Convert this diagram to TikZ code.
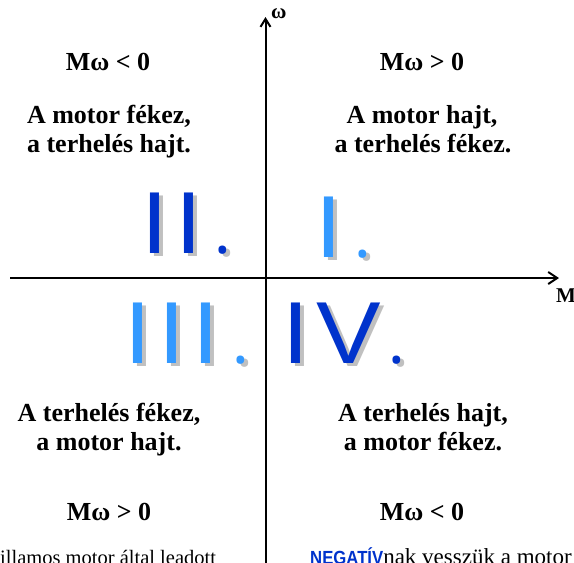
\documentclass[tikz,border=0pt]{standalone}
\usepackage{fontspec}
\setmainfont{Liberation Serif}
\newfontfamily\romfont[FakeStretch=1.1]{Liberation Sans}
\newfontfamily\negfont[FakeStretch=0.88]{Liberation Sans}
\newfontfamily\dotfont{Noto Sans}
\usetikzlibrary{arrows.meta}
\definecolor{dblue}{HTML}{0033CC}
\definecolor{lblue}{HTML}{3399FF}
\definecolor{shadowgray}{HTML}{C0C0C0}
\newcommand\romgap{\kern7.5pt}
\newcommand\romdot{{\kern5pt\dotfont\fontsize{62}{62}\selectfont .}}
\begin{document}
\begin{tikzpicture}[x=1pt,y=-1pt,
  axis/.style={line width=2pt},
  lbl/.style={font=\fontsize{26}{28}\selectfont\bfseries, anchor=base, inner sep=0pt},
  axlbl/.style={font=\fontsize{21}{24}\selectfont\bfseries, anchor=base west, inner sep=0pt},
  roman/.style={font=\fontsize{88}{88}\selectfont\romfont, anchor=base west, inner sep=0pt},
  romshadow/.style={roman, text=shadowgray},
  note/.style={anchor=base west, inner sep=0pt}]
\useasboundingbox[fill=white] (0,0) rectangle (574,563);

% axes
\coordinate (xs) at (10,278);
\coordinate (xe) at (559,278);
\coordinate (ys) at (265.5,575);
\coordinate (ye) at (265.5,17);
\draw[axis,-{Straight Barb[length=9pt,width=12pt]}] (xs) -- (xe);
\draw[axis,-{Straight Barb[length=8pt,width=10pt]}] (ys) -- (ye);
\node[axlbl] (lM) at (556,302) {M};
\node[axlbl] (lw) at (271,18) {ω};

% roman numerals with shadows
\node[romshadow] (s2) at (144.9,256.5) {I\romgap I\romgap\romdot};
\node[roman,text=dblue] (r2) at (140.9,253) {I\romgap I\romgap\romdot};
\node[romshadow] (s1) at (318.9,260.5) {I\romgap\romdot};
\node[roman,text=lblue] (r1) at (314.9,257) {I\romgap\romdot};
\node[romshadow] (s3) at (127.9,366.5) {I\romgap I\romgap I\romgap\romdot};
\node[roman,text=lblue] (r3) at (123.9,363) {I\romgap I\romgap I\romgap\romdot};
\node[romshadow] (s4) at (285.9,366.5) {I\romgap V\kern2.5pt\romdot};
\node[roman,text=dblue] (r4) at (281.9,363) {I\romgap V\kern2.5pt\romdot};

% quadrant II (top left)
\node[lbl] (q2c) at (108,70) {Mω < 0};
\node[lbl] (q2a) at (109,123) {A motor fékez,};
\node[lbl] (q2b) at (109,152) {a terhelés hajt.};
% quadrant I (top right)
\node[lbl] (q1c) at (422,70) {Mω > 0};
\node[lbl] (q1a) at (422,123) {A motor hajt,};
\node[lbl] (q1b) at (423,152) {a terhelés fékez.};
% quadrant III (bottom left)
\node[lbl] (q3a) at (109,421.5) {A terhelés fékez,};
\node[lbl] (q3b) at (109,450.5) {a motor hajt.};
\node[lbl] (q3c) at (109,520) {Mω > 0};
% quadrant IV (bottom right)
\node[lbl] (q4a) at (423,421.5) {A terhelés hajt,};
\node[lbl] (q4b) at (423,450.5) {a motor fékez.};
\node[lbl] (q4c) at (422,520) {Mω < 0};

% cut-off notes at the bottom
\node[note,font=\fontsize{20.5}{24}\selectfont] (n3) at (0,564) {illamos motor által leadott};
\node[note] (n4) at (310,564) {{\negfont\bfseries\fontsize{19}{22}\selectfont\textcolor{dblue}{NEGATÍV}}{\fontsize{23}{26}\selectfont nak vesszük a motor}};
\end{tikzpicture}
\end{document}
